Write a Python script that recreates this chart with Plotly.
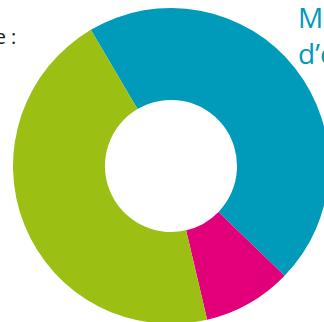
import plotly.graph_objects as go

labels = ["Bleu", "Magenta", "Vert"]
values = [45.7, 9.1, 45.2]
colors = ["#009bbb", "#e2007a", "#9bbf12"]

W, H = 330, 330
cx, cy, r = 171, 166, 158

fig = go.Figure(go.Pie(
    labels=labels,
    values=values,
    hole=0.418,
    sort=False,
    direction="clockwise",
    rotation=-30.5,
    marker=dict(colors=colors, line=dict(width=0)),
    textinfo="none",
    hoverinfo="label+percent",
    domain=dict(x=[(cx - r) / W, (cx + r) / W], y=[(H - cy - r) / H, (H - cy + r) / H]),
))

fig.add_annotation(
    text="Répartition de la consommation d’énergie :", xref="paper", yref="paper",
    x=18 / W, y=1 - 37 / H, xanchor="right", yanchor="middle", showarrow=False,
    font=dict(family="Open Sans, sans-serif", size=20, color="#1a1a1a"),
)
fig.add_annotation(
    text="Maîtrise<br>d’énergie", xref="paper", yref="paper",
    x=296 / W, y=1 + 4 / H, xanchor="left", yanchor="top", align="left", showarrow=False,
    font=dict(family="Open Sans, sans-serif", size=28, color="#009bbb"),
)

fig.update_layout(
    width=W, height=H,
    margin=dict(l=0, r=0, t=0, b=0),
    paper_bgcolor="white",
    showlegend=False,
)

fig.write_html(
    "out.html",
    config={"displayModeBar": False},
    post_script="document.body.style.margin='0';document.body.style.overflow='hidden';",
)
